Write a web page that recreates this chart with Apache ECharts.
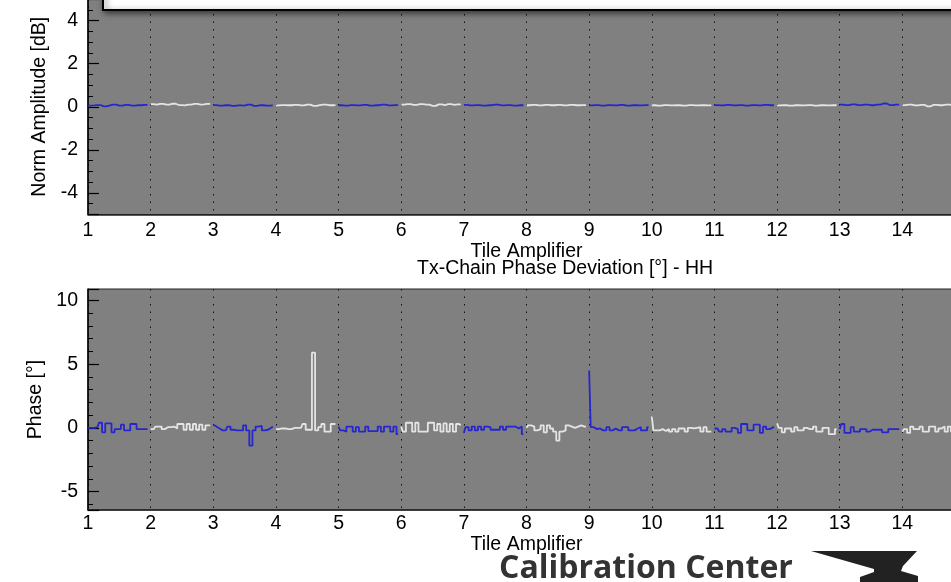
<!DOCTYPE html>
<html>
<head>
<meta charset="utf-8">
<script src="https://cdn.jsdelivr.net/npm/echarts@6/dist/echarts.min.js"></script>
<style>
html,body{margin:0;padding:0;background:#fff;}
#chart{width:951px;height:582px;}
</style>
</head>
<body>
<div id="chart"></div>
<script>
// ---------- data ----------
const tiles = [1,2,3,4,5,6,7,8,9,10,11,12,13,14];
const xTickLabels = ['1','2','3','4','5','6','7','8','9','10','11','12','13','14','15'];
const bottomTitle = 'Tx-Chain Phase Deviation [°] - HH';
const xName = 'Tile Amplifier';
const ampName = 'Norm Amplitude [dB]';
const phaseName = 'Phase [°]';

// normalised amplitude [dB], 20 amplifiers per tile
const amp01 = [0.05,0.05,0.06,0.08,0.08,0.02,0.02,0.06,0.10,0.10,0.05,0.05,0.09,0.09,0.05,0.05,0.07,0.07,0.09,0.09];
const amp02 = [0.12,0.12,0.10,0.13,0.13,0.10,0.10,0.14,0.14,0.08,0.08,0.06,0.10,0.10,0.13,0.13,0.10,0.11,0.13,0.13];
const amp03 = [0.08,0.08,0.05,0.05,0.07,0.07,0.04,0.04,0.06,0.06,0.05,0.10,0.10,0.04,0.04,0.07,0.07,0.05,0.05,0.06];
const amp04 = [0.06,0.06,0.08,0.08,0.07,0.07,0.09,0.09,0.06,0.06,0.10,0.10,0.04,0.04,0.08,0.10,0.10,0.07,0.07,0.08];
const amp05 = [0.07,0.07,0.05,0.05,0.08,0.08,0.06,0.06,0.09,0.09,0.05,0.05,0.07,0.07,0.10,0.10,0.06,0.06,0.08,0.08];
const amp06 = [0.10,0.10,0.12,0.12,0.09,0.09,0.12,0.12,0.10,0.10,0.04,0.04,0.11,0.11,0.08,0.12,0.12,0.09,0.11,0.11];
const amp07 = [0.09,0.09,0.06,0.06,0.08,0.08,0.05,0.05,0.07,0.07,0.10,0.10,0.06,0.06,0.08,0.08,0.05,0.05,0.07,0.07];
const amp08 = [0.07,0.07,0.09,0.09,0.06,0.06,0.09,0.09,0.07,0.07,0.09,0.09,0.06,0.06,0.09,0.09,0.07,0.07,0.08,0.08];
const amp09 = [0.06,0.06,0.08,0.08,0.05,0.05,0.08,0.08,0.06,0.06,0.09,0.09,0.05,0.05,0.07,0.07,0.06,0.06,0.08,0.08];
const amp10 = [0.07,0.07,0.05,0.05,0.08,0.08,0.06,0.06,0.07,0.07,0.05,0.05,0.08,0.08,0.06,0.06,0.07,0.07,0.06,0.06];
const amp11 = [0.08,0.08,0.06,0.06,0.09,0.09,0.06,0.06,0.08,0.08,0.05,0.05,0.08,0.08,0.06,0.06,0.09,0.09,0.07,0.07];
const amp12 = [0.06,0.06,0.07,0.07,0.05,0.05,0.07,0.07,0.06,0.06,0.08,0.08,0.05,0.05,0.07,0.07,0.06,0.06,0.07,0.07];
const amp13 = [0.10,0.10,0.08,0.08,0.11,0.11,0.08,0.08,0.10,0.10,0.07,0.07,0.10,0.10,0.15,0.15,0.08,0.08,0.10,0.10];
const amp14 = [0.08,0.08,0.10,0.10,0.06,0.06,0.09,0.09,0.02,0.02,0.09,0.09,0.07,0.07,0.10,0.10,0.08,0.08,0.09,0.09];

// phase deviation [deg], 20 amplifiers per tile
const ph01 = [0.00,0.00,0.00,0.05,0.40,-0.35,0.35,0.35,-0.35,-0.10,-0.10,0.25,-0.20,-0.20,0.30,0.30,-0.10,-0.10,-0.10,-0.10];
const ph02 = [-0.10,-0.10,0.10,0.10,-0.10,0.05,0.05,0.10,-0.05,0.30,0.30,-0.15,0.30,-0.15,0.30,-0.15,0.25,-0.15,0.20,0.20];
const ph03 = [0.25,0.10,-0.05,-0.20,-0.20,0.10,-0.15,-0.20,-0.20,-0.20,0.20,-0.20,-1.40,-0.20,0.10,0.15,-0.20,-0.15,0.00,0.10];
const ph04 = [-0.10,-0.10,-0.05,-0.05,-0.10,-0.10,0.00,0.00,0.00,0.30,-0.15,-0.15,5.90,-0.20,0.05,0.30,-0.30,-0.30,0.30,0.30];
const ph05 = [0.10,-0.20,-0.30,0.10,0.10,-0.30,0.05,-0.30,-0.30,0.10,-0.25,-0.25,-0.25,0.10,-0.30,0.10,0.10,-0.30,0.10,-0.50];
const ph06 = [0.10,-0.30,0.40,0.40,-0.30,0.40,-0.30,-0.30,-0.30,0.40,0.40,-0.20,0.30,-0.30,0.35,-0.30,0.30,-0.30,0.30,0.20];
const ph07 = [-0.40,0.05,-0.20,0.10,-0.20,0.10,-0.15,0.10,0.05,-0.15,-0.15,-0.15,0.10,-0.15,0.10,0.10,0.10,-0.05,0.10,-0.50];
const ph08 = [0.00,0.20,0.10,-0.20,-0.10,0.20,-0.35,0.20,-0.05,-0.30,-1.00,-0.30,-0.20,0.20,0.10,0.00,0.10,0.20,0.10,0.10];
const ph09 = [4.50,0.05,-0.10,-0.05,-0.20,-0.20,0.05,-0.20,-0.05,-0.20,-0.20,0.05,0.05,-0.20,-0.20,-0.05,0.05,-0.20,-0.20,0.05];
const ph10 = [0.90,-0.20,-0.20,-0.10,-0.25,-0.10,-0.30,-0.10,-0.30,-0.05,-0.05,-0.30,0.00,-0.05,0.00,0.05,-0.30,0.05,-0.30,-0.30];
const ph11 = [-0.05,-0.05,-0.30,-0.10,-0.30,-0.30,0.00,-0.10,-0.40,0.30,0.30,-0.20,-0.20,0.25,0.25,-0.40,0.10,-0.10,0.00,0.10];
const ph12 = [0.35,0.00,-0.35,-0.05,-0.05,-0.30,0.05,-0.20,-0.20,0.00,-0.10,-0.10,0.10,-0.30,-0.30,0.00,0.00,-0.50,-0.50,-0.10];
const ph13 = [-0.10,0.30,-0.40,-0.40,0.05,-0.30,-0.30,-0.10,-0.10,-0.30,-0.15,-0.15,-0.15,-0.15,-0.35,-0.35,-0.10,-0.10,-0.10,-0.10];
const ph14 = [-0.30,-0.10,-0.40,0.10,-0.10,-0.10,0.10,-0.30,-0.30,0.10,0.10,-0.30,-0.05,0.10,-0.30,0.10,-0.30,0.05,0.05,-0.20];

const ampTiles = [amp01,amp02,amp03,amp04,amp05,amp06,amp07,amp08,amp09,amp10,amp11,amp12,amp13,amp14];
const phaseTiles = [ph01,ph02,ph03,ph04,ph05,ph06,ph07,ph08,ph09,ph10,ph11,ph12,ph13,ph14];

// ---------- style ----------
const FONT = 'Liberation Sans, Arial, Helvetica, sans-serif';
const FS = 19.5;
const BLUE = '#2626d0';
const LIGHT = '#e4e4e4';
const PLOT_BG = '#808080';

function tileSeries(values, tile, idx) {
  const n = values.length;
  return {
    type: 'line', xAxisIndex: idx, yAxisIndex: idx,
    step: 'middle', symbol: 'none', animation: false, silent: true,
    lineStyle: { color: tile % 2 ? BLUE : LIGHT, width: 1.8 },
    data: values.map((v, k) => [tile + k / n, v])
  };
}

function xAxisCfg(idx, nameGap, margin) {
  return {
    gridIndex: idx, type: 'value', min: 1, max: 15, interval: 1,
    axisLine: { show: true, onZero: false, lineStyle: { color: '#222', width: 1.5 } },
    axisTick: { show: false },
    axisLabel: { fontSize: FS, color: '#000', fontFamily: FONT, margin: margin,
      formatter: v => xTickLabels[v - 1] || '' },
    splitLine: { show: true, lineStyle: { color: '#111', width: 1, type: [1.5, 6] } },
    name: xName, nameLocation: 'middle', nameGap: nameGap,
    nameTextStyle: { fontSize: FS, color: '#000', fontFamily: FONT }
  };
}

function yAxisCfg(idx, min, max, split, minorSplit, name, nameGap) {
  return {
    gridIndex: idx, type: 'value', min: min, max: max, splitNumber: split,
    axisLine: { show: true, onZero: false, lineStyle: { color: '#000', width: 1.5 } },
    axisTick: { show: true, inside: true, length: 11, lineStyle: { color: '#000', width: 1.2 } },
    minorTick: { show: true, splitNumber: minorSplit, length: 5, lineStyle: { color: '#000', width: 1 } },
    axisLabel: { fontSize: FS, color: '#000', fontFamily: FONT, margin: 10,
      showMinLabel: false, showMaxLabel: false },
    splitLine: { show: false },
    name: name, nameLocation: 'middle', nameRotate: 90, nameGap: nameGap,
    nameTextStyle: { fontSize: FS, color: '#000', fontFamily: FONT }
  };
}

const series = [];
tiles.forEach((t, i) => series.push(tileSeries(ampTiles[i], t, 0)));
tiles.forEach((t, i) => series.push(tileSeries(phaseTiles[i], t, 1)));

const chart = echarts.init(document.getElementById('chart'), null, { renderer: 'canvas' });
chart.setOption({
  animation: false,
  backgroundColor: '#fff',
  textStyle: { fontFamily: FONT },
  title: [
    { text: bottomTitle, left: 417, top: 259, padding: 0,
      textStyle: { fontSize: 19.5, fontWeight: 'normal', color: '#000', fontFamily: FONT } }
  ],
  grid: [
    { left: 88, top: -1, width: 877, height: 215.5, show: true, containLabel: false,
      outerBoundsMode: 'none',
      backgroundColor: PLOT_BG, borderColor: '#222', borderWidth: 1 },
    { left: 88, top: 289, width: 877, height: 221, show: true, containLabel: false,
      outerBoundsMode: 'none',
      backgroundColor: PLOT_BG, borderColor: '#222', borderWidth: 1 }
  ],
  xAxis: [ xAxisCfg(0, 17, 6), xAxisCfg(1, 19, 4) ],
  yAxis: [
    yAxisCfg(0, -5, 5, 5, 4, ampName, 35),
    yAxisCfg(1, -6.45, 10.9, 3, 5, phaseName, 41)
  ],
  series: series,
  graphic: [
    { type: 'rect', z: 100, silent: true,
      shape: { x: 103, y: -30, width: 900, height: 40 },
      style: { fill: '#fff', stroke: '#000', lineWidth: 2,
        shadowBlur: 6, shadowColor: 'rgba(0,0,0,0.6)', shadowOffsetX: 2, shadowOffsetY: 2 } },
    { type: 'text', z: 100, silent: true, left: 499, top: 553,
      style: { text: 'Calibration Center', fill: '#333',
        font: 'bold 32px "Open Sans", "DejaVu Sans", sans-serif' } },
    { type: 'polygon', z: 100, silent: true,
      shape: { points: [[811,551],[917,551],[903,566],[901,571],[918,576],[918,582],[860,582],[860,577],[874,572],[874,569]] },
      style: { fill: '#222' } }
  ]
});
</script>
</body>
</html>
